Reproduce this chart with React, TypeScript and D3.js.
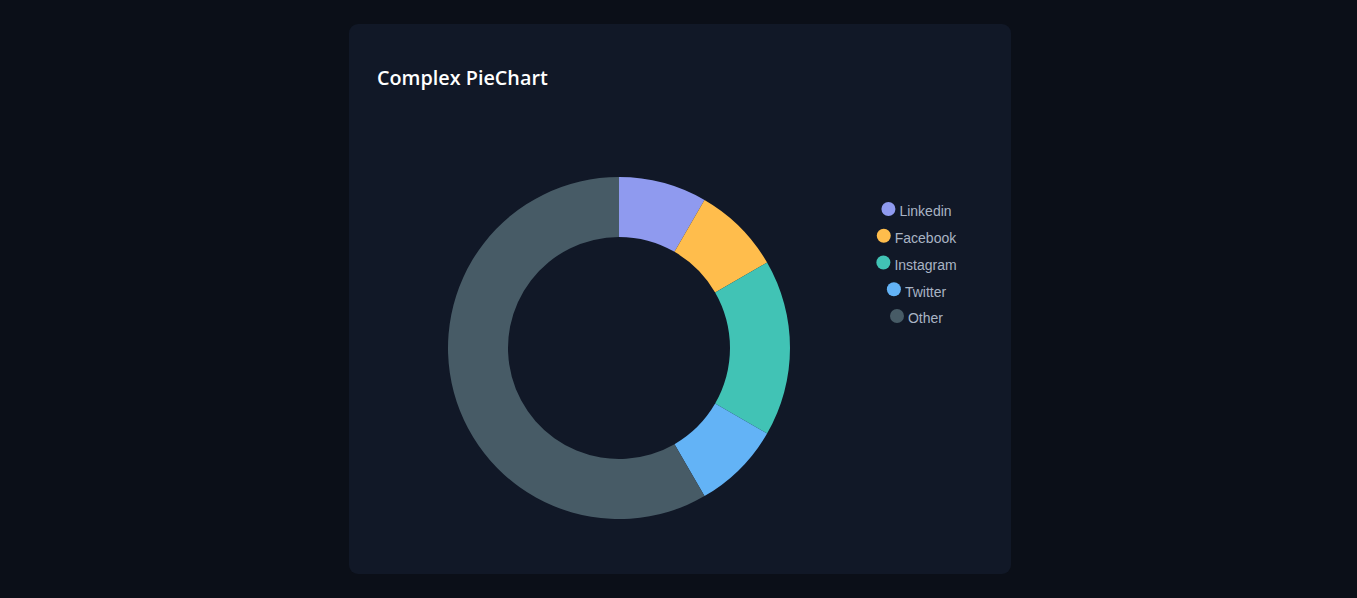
import React from "react";
import * as d3 from "d3";

const categories = ["Linkedin", "Facebook", "Instagram", "Twitter", "Other"];
const values = [1, 1, 2, 1, 7];
const colors = ["#8f9aef", "#ffbd4c", "#41c3b5", "#63b3f6", "#475b66"];

const W = 1357;
const H = 598;

export default function App() {
  const cx = 619;
  const cy = 348;
  const outerR = 171;
  const innerR = 111;
  const pie = d3.pie<number>().sort(null).value((d) => d)(values);
  const arc = d3.arc<d3.PieArcDatum<number>>().innerRadius(innerR).outerRadius(outerR);
  return (
    <div style={{ position: "fixed", left: 0, top: 0, width: W, height: H, background: "#0b0f18" }}>
      <svg width={W} height={H} style={{ display: "block" }}>
        <rect x={349} y={24} width={662} height={550} rx={9} fill="#111827" />
        <text x={377} y={84.5} fill="#ffffff" fontFamily="'Open Sans', sans-serif" fontWeight={600} fontSize={19.8}>
          Complex PieChart
        </text>
        <g transform={`translate(${cx},${cy})`}>
          {pie.map((p, i) => (
            <path key={categories[i]} d={arc(p) || ""} fill={colors[i]} />
          ))}
        </g>
        <Legend />
      </svg>
    </div>
  );
}

function Legend() {
  const ref = React.useRef<SVGGElement>(null);
  React.useEffect(() => {
    if (!ref.current) return;
    const g = d3.select(ref.current);
    g.selectAll("*").remove();
    const legendY = d3.scalePoint<string>().domain(categories).range([211, 318]);
    categories.forEach((c, i) => {
      const y = legendY(c) as number;
      const t = g
        .append("text")
        .attr("x", 0)
        .attr("y", y)
        .attr("dy", "0.38em")
        .attr("font-family", "'Liberation Sans', Arial, sans-serif")
        .attr("font-size", 14)
        .attr("fill", "#a9b4c4")
        .text(c);
      const tw = (t.node() as SVGTextElement).getComputedTextLength();
      const total = 14 + 4 + tw;
      const x0 = 916.5 - total / 2;
      t.attr("x", x0 + 18);
      g.append("circle").attr("cx", x0 + 7).attr("cy", y - 2).attr("r", 7).attr("fill", colors[i]);
    });
  }, []);
  return <g ref={ref} />;
}
